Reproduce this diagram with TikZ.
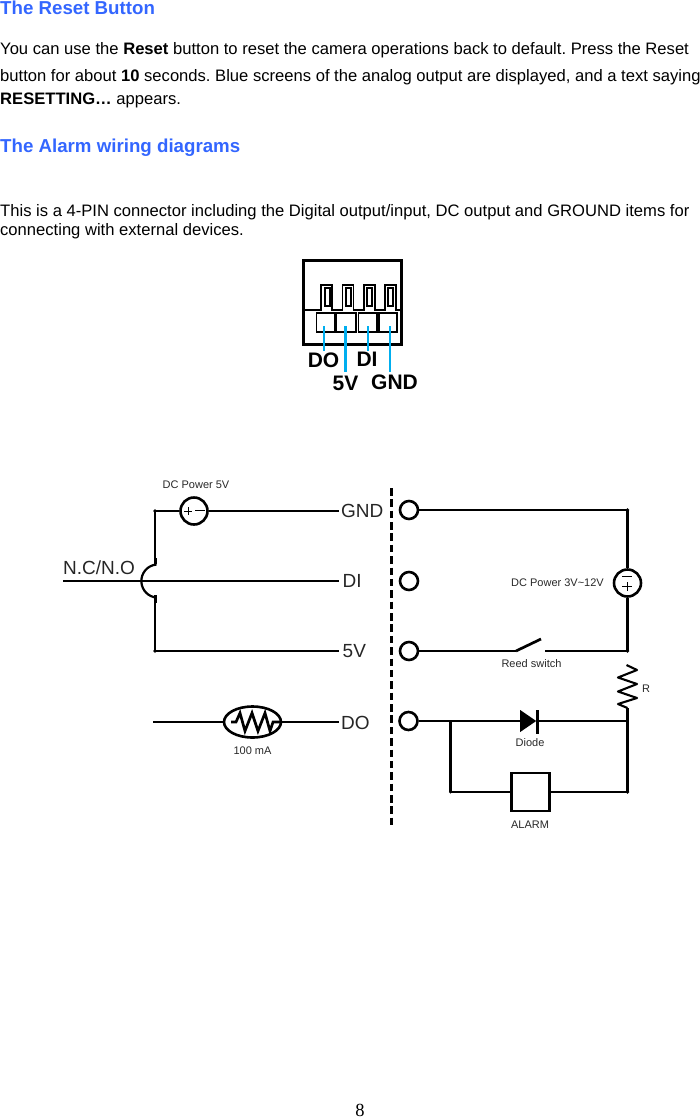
\documentclass[tikz,border=0pt]{standalone}
\usepackage{fontspec}
\setmainfont{Liberation Sans}
\newfontfamily\serifpg{Liberation Serif}
\usetikzlibrary{shapes.geometric}
\definecolor{headblue}{RGB}{51,102,255}
\definecolor{pinblue}{RGB}{0,174,239}
\definecolor{lblgray}{RGB}{40,40,40}
\tikzset{
  heading/.style={anchor=base west,inner sep=0,font=\fontsize{18.7}{20}\selectfont\bfseries,text=headblue},
  bodytext/.style={anchor=base west,inner sep=0,font=\frenchspacing\fontsize{16.6}{18}\selectfont,text=black},
  pinlabel/.style={anchor=base,inner sep=0,font=\fontsize{21}{22}\selectfont\bfseries,text=black},
  sig/.style={anchor=base west,inner sep=0,font=\fontsize{19}{20}\selectfont,text=black!85},
  small/.style={anchor=base,inner sep=0,font=\fontsize{11}{12}\selectfont,text=lblgray},
  wire/.style={draw=black,line width=2.7pt},
  thinwire/.style={draw=black,line width=2.2pt},
  term/.style={circle,draw=black,line width=2.6pt,minimum size=18pt,inner sep=0,fill=white},
  src/.style={circle,draw=black,line width=2.6pt,minimum size=27pt,inner sep=0,fill=white},
  pinline/.style={draw=pinblue,line width=1.8pt},
  pinlinethick/.style={draw=pinblue,line width=2.8pt},
  slot/.style={draw=black,line width=1.6pt,fill=white,inner sep=0},
  window/.style={draw=black,line width=2pt,fill=white,inner sep=0,minimum width=5pt,minimum height=18pt},
}
\begin{document}
\begin{tikzpicture}[x=1pt,y=-1pt]
\useasboundingbox (0,0) rectangle (700,1119);
% page text
\node[heading] (h1) at (0,14) {The Reset Button};
\node[bodytext] (t1) at (0,54) {You can use the \textbf{Reset} button to reset the camera operations back to default. Press the Reset};
\node[bodytext] (t2) at (0,81) {button for about \textbf{10} seconds. Blue screens of the analog output are displayed, and a text saying};
\node[bodytext] (t3) at (0,104) {\textbf{RESETTING…} appears.};
\node[heading] (h2) at (0,152) {The Alarm wiring diagrams};
\node[bodytext] (t4) at (0,216) {This is a 4-PIN connector including the Digital output/input, DC output and GROUND items for};
\node[bodytext] (t5) at (0,235) {connecting with external devices.};
\node[anchor=base,inner sep=0,font=\serifpg\fontsize{18.5}{20}\selectfont] (pg) at (360,1116.5) {8};

% connector
\draw[draw=black,line width=3pt] (303.5,260) rectangle (401.5,344);
\draw[draw=black,line width=1.5pt] (304,310) -- (321,310) -- (321,285) -- (332,285) -- (332,310) -- (342.5,310) -- (342.5,285) -- (353.5,285) -- (353.5,310) -- (364,310) -- (364,285) -- (375,285) -- (375,310) -- (385,310) -- (385,285) -- (396,285) -- (396,310) -- (401,310);
\foreach \x/\n in {327/a,348.3/b,369.7/c,390.7/d}{
  \node[window] (win\n) at (\x,297) {};
}
\node[slot,minimum width=18.5pt,minimum height=19pt] (s1) at (325.75,322.5) {};
\node[slot,minimum width=19.5pt,minimum height=19pt] (s2) at (346.25,322.5) {};
\node[slot,minimum width=18.5pt,minimum height=19pt] (s3) at (367.75,322.5) {};
\node[slot,minimum width=18.5pt,minimum height=19pt] (s4) at (388,322.5) {};
\node[pinlabel] (ldo) at (323.5,367) {DO};
\node[pinlabel] (ldi) at (367,366) {DI};
\node[pinlabel] (l5v) at (345.5,390) {5V};
\node[pinlabel] (lgnd) at (394.5,389) {GND};
\coordinate (e1) at (324,351);
\coordinate (e2) at (345.5,372);
\coordinate (e3) at (368,351);
\coordinate (e4) at (390,372);
\draw[pinline] (324,326) -- (e1);
\draw[pinlinethick] (345.5,326) -- (e2);
\draw[pinline] (368,326) -- (e3);
\draw[pinline] (390,326) -- (e4);

% dashed divider
\coordinate (dv1) at (391.5,488);
\coordinate (dv2) at (391.5,825.3);
\draw[draw=black,line width=3pt,dash pattern=on 7.5pt off 3.87pt] (dv1) -- (dv2);

% left signal labels
\node[sig] (gnd) at (341,517) {GND};
\node[sig] (di) at (342.5,587) {DI};
\node[sig] (fv) at (342.5,657) {5V};
\node[sig] (do) at (341,729) {DO};
\node[sig,anchor=base west] (nc) at (63,574.5) {N.C/N.O};
\coordinate (wgnd) at (339,511);
\coordinate (wdi) at (339,581);
\coordinate (wfv) at (339,651);
\coordinate (wdo) at (339,722);

% left circuit
\node[src] (psu) at (194,511) {};
\coordinate (tl) at (155,511);
\coordinate (bl) at (155,651);
\coordinate (nl) at (63,581);
\draw[wire] (tl) -- (psu);
\draw[wire] (psu) -- (wgnd);
\draw[wire] (tl) -- (155,561);
\draw[thinwire] (156.5,564.5) arc[start angle=-95,end angle=-265,radius=16.6];
\draw[draw=black,line width=3.4pt] (155.5,558) -- (155.5,564);
\draw[draw=black,line width=3.4pt] (155.5,595) -- (155.5,603);
\draw[wire] (155,600) -- (bl) -- (wfv);
\draw[wire] (nl) -- (wdi);
\fill (tl) circle (1.9pt);
\fill (bl) circle (1.9pt);
\draw[line width=1pt] (184,511) -- (192,511) (188,507) -- (188,515) (195,510.5) -- (204.5,510.5);

% thermistor-like element
\coordinate (dl) at (153,722);
\node[ellipse,draw=black,line width=2.6pt,minimum width=57pt,minimum height=31pt,inner sep=0] (fuse) at (252.5,722) {};
\draw[wire] (dl) -- (fuse);
\draw[wire] (fuse) -- (wdo);
\draw[wire,line join=miter] (231,722) -- (236,722) -- (240,713) -- (245,731) -- (252,713) -- (258,731) -- (265,713) -- (270,731) -- (273,722) -- (280,722);

% terminals
\node[term] (tg) at (409,510) {};
\node[term] (td) at (409,581) {};
\node[term] (tf) at (409,651) {};
\node[term] (to) at (408.5,721) {};

% right circuit
\coordinate (c1) at (627.5,510);
\coordinate (c2) at (627.5,651);
\coordinate (c3) at (627.5,721);
\coordinate (c4) at (627.5,792);
\coordinate (j1) at (450.5,721);
\coordinate (j2) at (450.5,792);
\node[src] (pr) at (627.5,583) {};
\draw[thinwire] (tg) -- (c1);
\draw[wire] (c1) -- (pr);
\draw[thinwire] (pr) -- (c2);
\fill (c1) circle (1.9pt);
\fill (c2) circle (1.8pt);
\draw[line width=1pt] (622,576.5) -- (632,576.5) (622,586.5) -- (632,586.5) (627,582) -- (627,591);
% reed switch
\coordinate (sw1) at (516,651);
\coordinate (sw2) at (541,639);
\coordinate (sw3) at (545,651);
\draw[wire] (tf) -- (sw1);
\draw[wire] (sw1) -- (sw2);
\draw[wire] (sw3) -- (c2);
% resistor
\coordinate (r1) at (626.5,665);
\coordinate (r2) at (627.5,708);
\draw[draw=black,line width=2.1pt,line join=round] (r1) -- (637,670) -- (618,677.5) -- (637,684) -- (618,691.5) -- (637,698) -- (618,704) -- (r2);
\draw[wire] (r2) -- (c3);
% diode line
\node[isosceles triangle,isosceles triangle apex angle=70,isosceles triangle stretches,fill=black,minimum height=16pt,minimum width=22pt,inner sep=0,anchor=lower side] (dio) at (520,721) {};
\draw[wire] (to) -- (dio);
\draw[wire] (dio) -- (c3);
\draw[line width=2.8pt] (537.5,710) -- (537.5,733.5);
\draw[wire] (j1) -- (j2);
\node[draw=black,line width=2.8pt,minimum size=38pt,inner sep=0] (alm) at (530.5,792) {};
\draw[wire] (j2) -- (alm);
\draw[wire] (alm) -- (c4);
\draw[wire] (c3) -- (c4);
\fill (c4) circle (1.8pt);
\fill (j2) circle (1.6pt);

% small labels
\node[small] (l1) at (196,488) {DC Power 5V};
\node[small] (l2) at (252.5,754) {100 mA};
\node[small] (l3) at (557.5,586) {DC Power 3V\textasciitilde12V};
\node[small] (l4) at (531.5,667) {Reed switch};
\node[small] (l5) at (530,746) {Diode};
\node[small] (l6) at (530,828) {ALARM};
\node[small] (l7) at (646,692.5) {R};
\end{tikzpicture}
\end{document}
